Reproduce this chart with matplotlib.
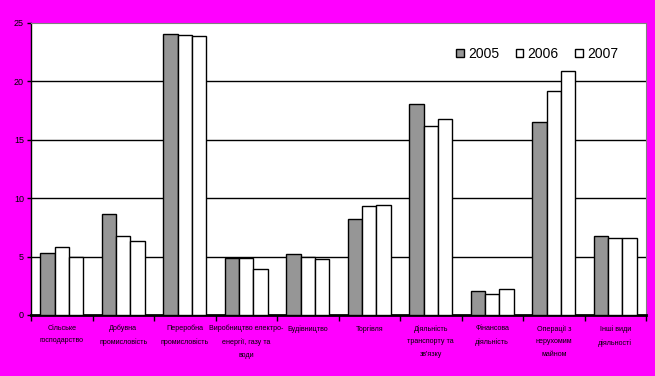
import matplotlib.pyplot as plt
import numpy as np

# --- Data ---
categories = [
    "Сільське\nгосподарство",
    "Добувна\nпромисловість",
    "Переробна\nпромисловість",
    "Виробництво електро-\nенергії, газу та\nводи",
    "Будівництво",
    "Торгівля",
    "Діяльність\nтранспорту та\nзв'язку",
    "Фінансова\nдіяльність",
    "Операції з\nнерухомим\nмайном",
    "Інші види\nдіяльності",
]
years = ["2005", "2006", "2007"]
v2005 = [5.3, 8.65, 24.1, 4.85, 5.2, 8.2, 18.1, 2.05, 16.5, 6.75]
v2006 = [5.8, 6.8, 24.0, 4.85, 5.0, 9.3, 16.2, 1.8, 19.15, 6.6]
v2007 = [5.0, 6.3, 23.9, 3.9, 4.8, 9.4, 16.75, 2.2, 20.9, 6.6]

plt.rcParams['font.family'] = ['Liberation Sans', 'DejaVu Sans']

fig = plt.figure(figsize=(6.55, 3.76), dpi=100, facecolor='#FF00FF')
ax = fig.add_axes([31 / 655, 61 / 376, 615 / 655, 292 / 376])
ax.set_facecolor('white')

x = np.arange(len(categories))
w = 0.233
colors = ['#969696', 'white', 'white']
for i, (vals, c) in enumerate(zip([v2005, v2006, v2007], colors)):
    ax.bar(x + (i - 1) * w, vals, width=w, color=c, edgecolor='black',
           linewidth=1.0, label=years[i], zorder=3)

# --- Axes styling ---
ax.set_xlim(-0.5, len(categories) - 0.5)
ax.set_ylim(0, 25)
ax.set_yticks([0, 5, 10, 15, 20, 25])
ax.set_yticklabels(['0', '5', '10', '15', '20', '25'], fontsize=6.5)
for yv in [5, 10, 15, 20]:
    ax.axhline(yv, color='black', linewidth=1.0, zorder=1)

ax.set_xticks(x)
ax.set_xticklabels(categories, fontsize=5.1, linespacing=2.1)
ax.tick_params(axis='x', which='major', length=0, pad=7)
ax.set_xticks(np.arange(len(categories) + 1) - 0.5, minor=True)
ax.tick_params(axis='x', which='minor', length=4, width=1, direction='out')
ax.tick_params(axis='y', length=3, width=1, direction='out', pad=2)

ax.spines['left'].set_color('black')
ax.spines['left'].set_linewidth(1.0)
ax.spines['bottom'].set_color('black')
ax.spines['bottom'].set_linewidth(2.0)
ax.spines['top'].set_color('#808080')
ax.spines['right'].set_color('#808080')

ax.legend(loc='upper right', bbox_to_anchor=(0.975, 0.96), ncol=3, frameon=False,
          fontsize=10, handlelength=0.55, handleheight=0.55, handletextpad=0.3,
          columnspacing=1.2)

fig.savefig('out.png', dpi=100, facecolor=fig.get_facecolor())
